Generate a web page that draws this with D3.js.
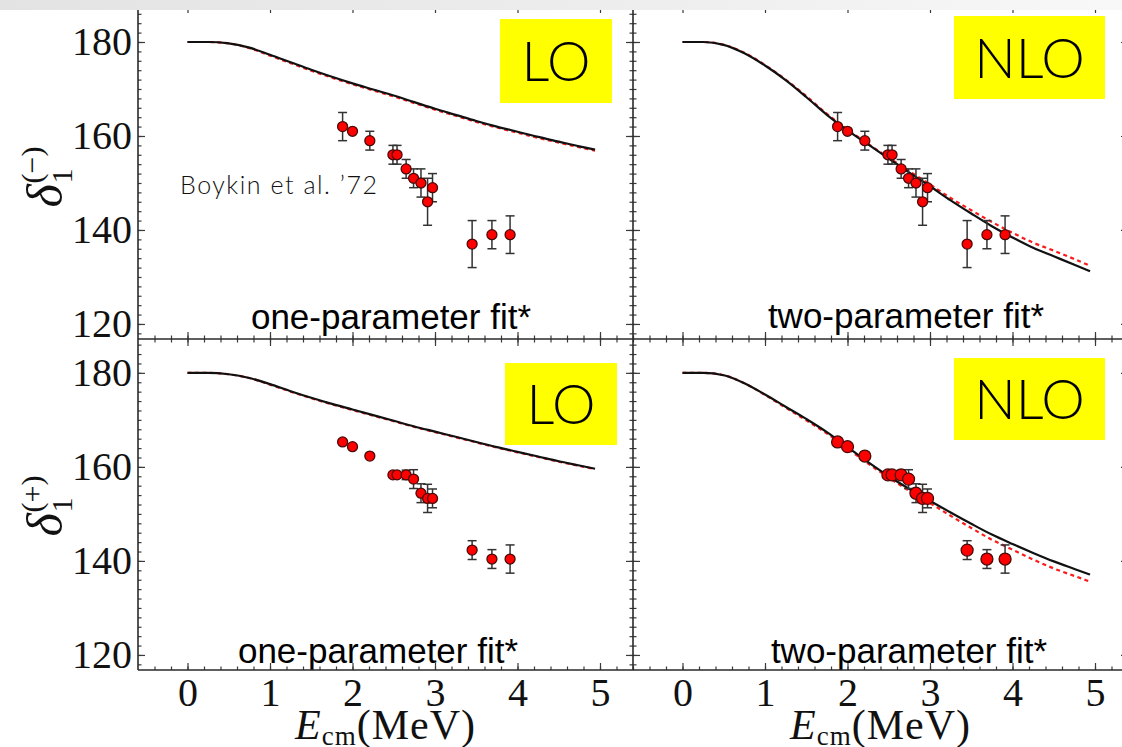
<!DOCTYPE html>
<html>
<head>
<meta charset="utf-8">
<script src="https://cdn.jsdelivr.net/npm/d3@7"></script>
<style>
  body { margin: 0; background: #fff; }
  svg { display: block; }
</style>
</head>
<body>
<svg id="chart"></svg>
<script>
var energy = [1.88, 2.00, 2.21, 2.49, 2.54, 2.65, 2.74, 2.83, 2.91, 2.97, 3.45, 3.69, 3.91];
var deltaMinus = [162, 161, 159, 156, 156, 153, 151, 150, 146, 149, 137, 139, 139];
var errMinus = [3, 0, 2, 2, 2, 2, 2, 3, 5, 3, 5, 3, 4];
var deltaPlus = [165.3, 164.3, 162.3, 158.3, 158.3, 158.3, 157.4, 154.4, 153.3, 153.3, 142.3, 140.4, 140.4];
var errPlus = [0, 0, 0, 0, 0, 1, 2, 2, 3, 2, 2, 2, 3];

// theory curves sampled at these energies
var curveE = [0, 0.25, 0.5, 0.75, 1, 1.25, 1.5, 1.75, 2, 2.25, 2.5, 2.75, 3, 3.25, 3.5, 3.75, 4, 4.25, 4.5, 4.75, 4.94];
var loMinus = [180, 180, 179.7, 178.8, 177.3, 175.7, 174.1, 172.6, 171.2, 169.9, 168.6, 167.2, 165.8, 164.5, 163.2, 162.0, 160.9, 159.8, 158.8, 157.8, 157.1];
var loMinusRed = [180, 180, 179.7, 178.7, 177.1, 175.5, 173.9, 172.4, 171.0, 169.7, 168.4, 167.0, 165.6, 164.3, 163.0, 161.8, 160.7, 159.6, 158.6, 157.6, 156.9];
var loPlus = [180, 180, 179.7, 178.9, 177.6, 176.1, 174.7, 173.4, 172.2, 171.0, 169.8, 168.6, 167.5, 166.4, 165.3, 164.2, 163.2, 162.2, 161.2, 160.3, 159.6];
var loPlusRed = [180, 180, 179.7, 178.9, 177.5, 176.0, 174.6, 173.3, 172.1, 170.9, 169.7, 168.5, 167.4, 166.3, 165.2, 164.1, 163.1, 162.1, 161.1, 160.2, 159.5];
var nloMinus = [180, 180, 179.4, 177.6, 175.0, 171.9, 168.3, 164.5, 161.2, 158.2, 155.2, 152.2, 149.3, 146.3, 143.5, 140.8, 138.4, 136.2, 134.4, 132.6, 131.2];
var nloMinusRed = [180, 180, 179.4, 177.7, 175.1, 172.0, 168.5, 164.7, 161.4, 158.3, 155.4, 152.5, 149.7, 146.8, 144.2, 141.7, 139.4, 137.3, 135.6, 133.8, 132.4];
var nloPlus = [180, 180, 179.5, 177.8, 175.4, 172.8, 170.2, 167.4, 164.2, 161.0, 158.0, 155.3, 152.8, 150.3, 147.9, 145.6, 143.6, 141.7, 139.9, 138.3, 137.1];
var nloPlusRed = [180, 180, 179.5, 177.8, 175.3, 172.6, 169.9, 167.1, 163.9, 160.7, 157.7, 154.9, 152.3, 149.6, 147.0, 144.5, 142.4, 140.3, 138.4, 136.8, 135.6];

var xTicks = [0, 1, 2, 3, 4, 5];
var yTicks = [120, 140, 160, 180];
var orderLabels = ["LO", "NLO"];
var fitLabels = ["one-parameter fit*", "two-parameter fit*"];
var refLabel = "Boykin et al. \u201972";

var width = 1122, height = 747;
var colX = [138, 633], panelW = 495;
var rowTop = [6, 339], rowBottom = [339, 670];
var rowDomain = [[116.8, 187.66], [116.8, 187.2]];
var xDomain = [-0.6, 5.4];
var xMinor = d3.range(-0.4, 5.41, 0.2);
var yMinor = d3.range(118, 187, 2);

var serif = "'Liberation Serif', 'Times New Roman', serif";
var sans = "'Liberation Sans', Arial, sans-serif";
var gothic = "Lato, 'Noto Sans', sans-serif";

var panels = [
  { row: 0, col: 0, pts: deltaMinus, err: errMinus, solid: loMinus, dashed: loMinusRed,
    tag: orderLabels[0], fit: fitLabels[0], box: [500, 19, 112, 84], fitPos: [391, 329], r: 5 },
  { row: 0, col: 1, pts: deltaMinus, err: errMinus, solid: nloMinus, dashed: nloMinusRed,
    tag: orderLabels[1], fit: fitLabels[1], box: [954, 16, 151, 83], fitPos: [906, 328], r: 5 },
  { row: 1, col: 0, pts: deltaPlus, err: errPlus, solid: loPlus, dashed: loPlusRed,
    tag: orderLabels[0], fit: fitLabels[0], box: [505, 363, 112, 82], fitPos: [378, 663], r: 5 },
  { row: 1, col: 1, pts: deltaPlus, err: errPlus, solid: nloPlus, dashed: nloPlusRed,
    tag: orderLabels[1], fit: fitLabels[1], box: [954, 358, 151, 82], fitPos: [909, 663], r: 6 }
];

var svg = d3.select("#chart").attr("width", width).attr("height", height);

function styleTicks(g) {
  g.select(".domain").remove();
  g.selectAll(".tick line").attr("stroke", "#3a3a3a").attr("stroke-width", 1.2);
}

function drawPanel(p) {
  var x0 = colX[p.col];
  var x = d3.scaleLinear().domain(xDomain).range([x0, x0 + panelW]);
  var y = d3.scaleLinear().domain(rowDomain[p.row]).range([rowBottom[p.row], rowTop[p.row]]);
  var g = svg.append("g");
  var yb = rowBottom[p.row], yt = rowTop[p.row];

  // ticks on all four sides, pointing inward
  var axes = g.append("g");
  // left
  axes.append("g").attr("transform", "translate(" + x0 + ",0)")
    .call(d3.axisLeft(y).tickValues(yMinor).tickSize(-3.5).tickFormat("")).call(styleTicks);
  var yl = axes.append("g").attr("transform", "translate(" + x0 + ",0)")
    .call(d3.axisLeft(y).tickValues(yTicks).tickSize(-7).tickPadding(6)
      .tickFormat(p.col === 0 ? d3.format("d") : ""))
    .call(styleTicks);
  yl.selectAll("text").attr("font-family", serif).attr("font-size", 40).attr("fill", "#111");
  // right
  axes.append("g").attr("transform", "translate(" + (x0 + panelW) + ",0)")
    .call(d3.axisRight(y).tickValues(yMinor).tickSize(-3.5).tickFormat("")).call(styleTicks);
  axes.append("g").attr("transform", "translate(" + (x0 + panelW) + ",0)")
    .call(d3.axisRight(y).tickValues(yTicks).tickSize(-7).tickFormat("")).call(styleTicks);
  // bottom
  axes.append("g").attr("transform", "translate(0," + yb + ")")
    .call(d3.axisBottom(x).tickValues(xMinor).tickSize(-3.5).tickFormat("")).call(styleTicks);
  var xl = axes.append("g").attr("transform", "translate(0," + yb + ")")
    .call(d3.axisBottom(x).tickValues(xTicks).tickSize(-7).tickPadding(8)
      .tickFormat(p.row === 1 ? d3.format("d") : ""))
    .call(styleTicks);
  xl.selectAll("text").attr("font-family", serif).attr("font-size", 40).attr("fill", "#111");
  // top
  axes.append("g").attr("transform", "translate(0," + yt + ")")
    .call(d3.axisTop(x).tickValues(xMinor).tickSize(-3.5).tickFormat("")).call(styleTicks);
  axes.append("g").attr("transform", "translate(0," + yt + ")")
    .call(d3.axisTop(x).tickValues(xTicks).tickSize(-7).tickFormat("")).call(styleTicks);

  // theory curves
  var line = d3.line()
    .x(function (d) { return x(d[0]); })
    .y(function (d) { return y(d[1]); })
    .curve(d3.curveMonotoneX);
  g.append("path")
    .attr("d", line(curveE.map(function (e, i) { return [e, p.dashed[i]]; })))
    .attr("fill", "none").attr("stroke", "#ff1a1a").attr("stroke-width", 2.2)
    .attr("stroke-dasharray", "4,3.5");
  g.append("path")
    .attr("d", line(curveE.map(function (e, i) { return [e, p.solid[i]]; })))
    .attr("fill", "none").attr("stroke", "#111").attr("stroke-width", 2.2);

  // error bars
  var pts = energy.map(function (e, i) { return { e: e, v: p.pts[i], err: p.err[i] }; });
  var bars = g.append("g").attr("stroke", "#333").attr("stroke-width", 1.5)
    .selectAll("g").data(pts.filter(function (d) { return d.err > 0; })).enter().append("g");
  bars.append("line")
    .attr("x1", function (d) { return x(d.e); }).attr("x2", function (d) { return x(d.e); })
    .attr("y1", function (d) { return y(d.v + d.err); }).attr("y2", function (d) { return y(d.v - d.err); });
  bars.append("line")
    .attr("x1", function (d) { return x(d.e) - 4.5; }).attr("x2", function (d) { return x(d.e) + 4.5; })
    .attr("y1", function (d) { return y(d.v + d.err); }).attr("y2", function (d) { return y(d.v + d.err); });
  bars.append("line")
    .attr("x1", function (d) { return x(d.e) - 4.5; }).attr("x2", function (d) { return x(d.e) + 4.5; })
    .attr("y1", function (d) { return y(d.v - d.err); }).attr("y2", function (d) { return y(d.v - d.err); });

  // markers
  g.append("g").selectAll("circle").data(pts).enter().append("circle")
    .attr("cx", function (d) { return x(d.e); })
    .attr("cy", function (d) { return y(d.v); })
    .attr("r", p.r)
    .attr("fill", "#ff0000").attr("stroke", "#4a0a0a").attr("stroke-width", 1.3);

  // LO / NLO tag
  g.append("rect").attr("x", p.box[0]).attr("y", p.box[1])
    .attr("width", p.box[2]).attr("height", p.box[3]).attr("fill", "#ffff00");
  g.append("text").attr("x", p.box[0] + p.box[2] / 2).attr("y", p.box[1] + p.box[3] / 2 + 20)
    .attr("text-anchor", "middle").attr("font-family", gothic).attr("font-weight", 300)
    .attr("font-size", 55).attr("fill", "#000").text(p.tag);

  // fit label
  g.append("text").attr("x", p.fitPos[0]).attr("y", p.fitPos[1])
    .attr("text-anchor", "middle").attr("font-family", sans).attr("font-size", 35)
    .attr("fill", "#000").text(p.fit);

  // x axis title under bottom row
  if (p.row === 1) {
    var t = svg.append("text").attr("x", x0 + panelW / 2).attr("y", 739)
      .attr("text-anchor", "middle").attr("font-family", serif).attr("font-size", 42)
      .attr("letter-spacing", 1).attr("fill", "#111");
    t.append("tspan").attr("font-style", "italic").text("E");
    t.append("tspan").attr("font-size", 27).attr("dy", 6).text("cm");
    t.append("tspan").attr("dy", -6).text("(MeV)");
  }
}

panels.forEach(drawPanel);

// frame lines
var frame = svg.append("g").attr("stroke", "#2a2a2a").attr("stroke-width", 1.6);
[colX[0], colX[1]].forEach(function (cx) {
  frame.append("line").attr("x1", cx).attr("x2", cx).attr("y1", 0).attr("y2", rowBottom[1]);
});
[rowBottom[0], rowBottom[1]].forEach(function (ry) {
  frame.append("line").attr("x1", colX[0]).attr("x2", width).attr("y1", ry).attr("y2", ry);
});

// y axis titles (delta_1 with sign)
function yTitle(cy, sign) {
  var g = svg.append("g").attr("transform", "translate(62," + (cy + 32) + ") rotate(-90)")
    .attr("font-family", serif).attr("fill", "#111");
  g.append("text").attr("x", 0).attr("y", 0).attr("font-style", "italic").attr("font-size", 50).text("\u03b4");
  g.append("text").attr("x", 24).attr("y", 10).attr("font-size", 30).text("1");
  g.append("text").attr("x", 24).attr("y", -20).attr("font-size", 30).text("(" + sign + ")");
}
yTitle((rowTop[0] + rowBottom[0]) / 2 + 3, "\u2212");
yTitle((rowTop[1] + rowBottom[1]) / 2, "+");

// reference label
svg.append("text").attr("x", 180).attr("y", 194).attr("font-family", gothic).attr("font-weight", 300)
  .attr("font-size", 25).attr("textLength", 197).attr("lengthAdjust", "spacing")
  .attr("fill", "#111").text(refLabel);

// grey slide banner at the very top
var defs = svg.append("defs");
var grad = defs.append("linearGradient").attr("id", "banner");
grad.append("stop").attr("offset", "0%").attr("stop-color", "#e3e3e3");
grad.append("stop").attr("offset", "60%").attr("stop-color", "#eeeeee");
grad.append("stop").attr("offset", "100%").attr("stop-color", "#f8f8f8");
svg.append("rect").attr("x", 0).attr("y", 0).attr("width", width).attr("height", 10)
  .attr("fill", "url(#banner)");
</script>
</body>
</html>
